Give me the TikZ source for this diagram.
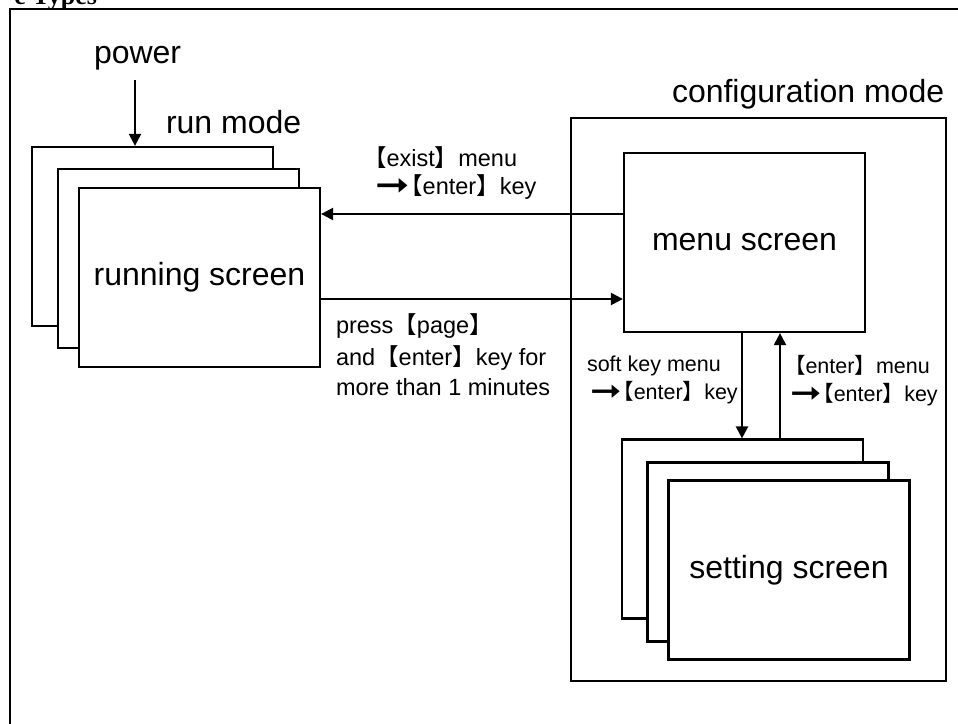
\documentclass[tikz,border=0pt]{standalone}
\usepackage{graphicx}
\usepackage{fontspec}
\setmainfont{Liberation Sans}
\newfontfamily\cjkfont{Noto Sans CJK SC}
\newfontfamily\cjkhalt[RawFeature=+halt]{Noto Sans CJK SC}
\newfontfamily\symfont{DejaVu Sans}
\newfontfamily\seriffont{Liberation Serif}
\usetikzlibrary{arrows.meta,calc}
\newcommand\Lbr{{\cjkfont 【}}
\newcommand\Rbr{{\cjkfont 】}}
\newcommand\ArLbr{\raisebox{-2.5pt}{\scalebox{1.75}[1.45]{\symfont ➞}}\kern1.5pt{\cjkhalt 【}}
\begin{document}
\begin{tikzpicture}[x=1pt,y=-1pt,line width=2pt,
  box/.style={draw, fill=white, inner sep=0pt, line width=2.2pt,
    minimum width=241pt, minimum height=179pt,
    font=\fontsize{32}{38}\selectfont},
  arr/.style={-{Triangle[length=12pt,width=12pt]}, line width=2.2pt},
  big/.style={font=\fontsize{32}{38}\selectfont, inner sep=0pt, anchor=base west},
  small/.style={font=\fontsize{23.5}{28}\selectfont, inner sep=0pt, anchor=base west},
  smaller/.style={font=\fontsize{21.5}{26}\selectfont, inner sep=0pt, anchor=base west}]
\useasboundingbox (0,0) rectangle (958,723);
\clip (0,0) rectangle (958,723);
\fill[white] (0,0) rectangle (958,723);
% outer frame
\draw[line width=2.2pt] (10,760) -- (10,9) -- (990,9);
\node[font=\seriffont\bfseries\fontsize{26}{30}\selectfont, inner sep=0pt, anchor=base east] (ttl) at (98,4) {e Types};
% run mode stack
\node[big] (power) at (93,63) {power};
\node[big] (runmode) at (165,133) {run mode};
\node[box] (rb) at (152.5,236.5) {};
\node[box] (rm) at (178.5,258.5) {};
\node[box] (run) at (199.5,277.5) {running screen};
\coordinate (pw) at (135,80);
\draw[arr] (pw) -- (pw |- rb.north);
% configuration mode
\node[big] (cfgt) at (671,102) {configuration mode};
\node[draw, line width=2.2pt, inner sep=0pt, minimum width=375pt, minimum height=563pt] (cfg) at (758.5,399.5) {};
\node[box] (menu) at (744.5,242.5) {menu screen};
\node[box] (sb) at (742.5,529) {};
\node[box] (sm) at (768,552) {};
\node[box] (set) at (789,570) {setting screen};
% connectors
\draw[arr] ([yshift=28.5pt]menu.west) -- ([yshift=28.5pt]menu.west -| run.east);
\draw[arr] ([yshift=-21.5pt]run.east) -- ([yshift=-21.5pt]run.east -| menu.west);
\draw[arr] ([xshift=-2.5pt]menu.south) -- ([xshift=-2.5pt]menu.south |- sb.north);
\draw[arr] ([xshift=35.5pt]menu.south |- sb.north) -- ([xshift=35.5pt]menu.south);
% labels
\node[small] (l1a) at (362,166) {\Lbr exist\Rbr menu};
\node[small] (l1b) at (374,194) {\ArLbr enter\Rbr key};
\node[small] (l2a) at (335,333) {press\Lbr page\Rbr};
\node[small] (l2b) at (335,365) {and\Lbr enter\Rbr key for};
\node[small] (l2c) at (335,395) {more than 1 minutes};
\node[smaller] (l3a) at (586,371) {soft key menu};
\node[smaller] (l3b) at (589,399) {\ArLbr enter\Rbr key};
\node[smaller] (l4a) at (783,373) {\Lbr enter\Rbr menu};
\node[smaller] (l4b) at (789,401) {\ArLbr enter\Rbr key};
\end{tikzpicture}
\end{document}
